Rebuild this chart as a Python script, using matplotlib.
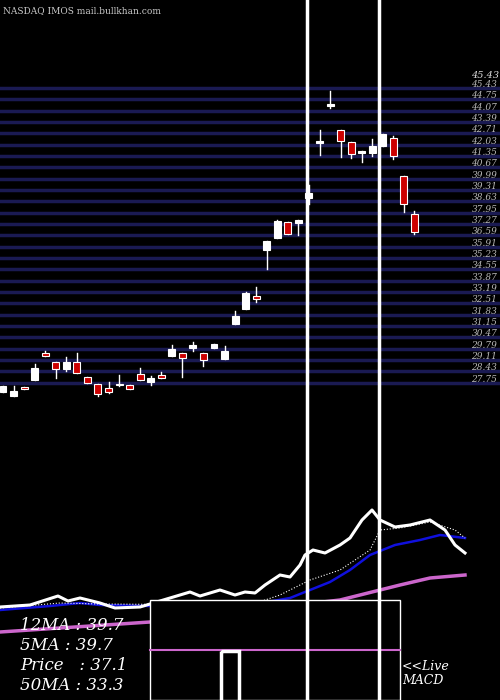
import matplotlib
matplotlib.use('Agg')
from matplotlib import pyplot as plt
from matplotlib.patches import Rectangle

# candles: open, close, high, low
opens  = [27.18,26.94,27.48,27.9,29.52,28.98,28.56,28.98,28.08,27.66,27.42,27.60,27.6,28.26,27.78,28.2,29.34,29.52,29.82,29.52,
          29.82,29.16,31.26,32.16,32.94,35.7,36.42,37.38,37.32,38.82,42.12,44.34,42.9,42.18,41.52,41.52,41.94,42.42,40.14,37.86]
closes = [27.54,27.24,27.36,28.62,29.34,28.56,28.98,28.32,27.72,27.06,27.18,27.66,27.36,27.9,28.02,28.02,29.76,29.22,30.0,29.1,
          30.06,29.64,31.74,33.12,32.76,36.24,37.44,36.66,37.5,39.12,42.24,44.46,42.24,41.46,41.64,41.94,42.66,41.34,38.46,36.78]
highs  = [27.54,27.54,27.48,28.86,29.64,28.98,29.28,29.52,28.08,27.66,27.78,28.2,27.6,28.62,28.14,28.38,30.0,29.52,30.18,29.52,
          30.06,29.94,32.04,33.18,33.48,36.24,37.5,37.38,37.5,39.6,42.9,45.24,42.9,42.18,41.64,42.36,42.66,42.54,40.14,38.04]
lows   = [27.18,26.94,27.36,27.9,29.34,28.02,28.44,28.32,27.72,26.94,27.12,27.54,27.36,27.9,27.6,28.02,29.34,28.08,29.64,28.74,
          29.82,29.16,31.26,32.16,32.58,34.56,36.42,36.66,36.6,38.46,41.4,44.22,41.28,41.22,40.98,41.34,41.94,41.16,37.98,36.66]

grid_prices = [45.43 - 0.68 * k for k in range(27)]

# lower panel indicator traces (panel units, 0 = top of figure)
px_x  = [0,30,58,68,80,100,115,140,190,200,220,235,245,255,265,280,290,300,305,313,325,340,350,362,372,380,395,410,430,445,455,465]
px_y  = [607,605,596,601,598,603,608,607,592,596,590,595,592,593,585,575,577,565,555,550,553,545,538,520,510,520,527,525,520,530,545,553]
dot_x = [0,60,100,250,280,310,340,370,380,400,430,455,465]
dot_y = [608,603,604,605,595,580,570,550,530,528,522,530,538]
blu_x = [0,50,80,100,150,250,290,310,330,350,370,395,420,440,465]
blu_y = [610,606,603,605,606,605,598,590,582,570,555,545,540,535,538]
mag_x = [0,60,150,340,380,400,430,465]
mag_y = [632,628,622,600,590,585,578,575]

fig = plt.figure(figsize=(5, 7), dpi=100, facecolor='black')

# pixel-style base axes for lower panel and overlays
base = fig.add_axes([0, 0, 1, 1])
base.set_xlim(0, 500); base.set_ylim(700, 0)
base.set_facecolor('black'); base.axis('off')

# price axes (upper 400 px)
pa = fig.add_axes([0, 300/700, 1, 400/700])
pa.set_facecolor('none'); pa.axis('off')
pa.set_xlim(-3/10.55, 497/10.55)
pa.set_ylim(50.7 - 0.06*400, 50.7)

for g in grid_prices:
    pa.axhline(g, color='#1a1a52', lw=2.5, zorder=1)
    pa.text(44.4, g + 0.2, f'{g:.2f}', color='#bbbbbb', fontsize=6.5, style='italic',
            family='DejaVu Serif', va='center', zorder=5)
pa.text(44.4, 45.43 + 0.75, '45.43', color='#dddddd', fontsize=7, style='italic',
        family='DejaVu Serif', va='center')

for i in range(len(opens)):
    o, c, h, l = opens[i], closes[i], highs[i], lows[i]
    col = 'white' if c >= o else '#cc0000'
    pa.plot([i, i], [l, h], color='white', lw=1, zorder=3)
    pa.add_patch(Rectangle((i - 0.33, min(o, c)), 0.66, max(abs(c - o), 0.08),
                           facecolor=col, edgecolor='white', lw=0.8, zorder=4))

# lower panel lines
base.plot(mag_x, mag_y, color='#cc66cc', lw=2.5, zorder=2)
base.plot(blu_x, blu_y, color='#1010dd', lw=1.8, zorder=2)
base.plot(dot_x, dot_y, color='white', lw=0.8, ls=':', zorder=2)
base.plot(px_x, px_y, color='white', lw=2.2, zorder=2)

# MACD box
base.add_patch(Rectangle((150, 600), 250, 100, facecolor='black', edgecolor='white', lw=1, zorder=6))
base.plot([150, 400], [650, 650], color='#cc66cc', lw=1.5, zorder=7)
base.add_patch(Rectangle((221, 651), 18, 60, facecolor='none', edgecolor='white', lw=2.5, zorder=7))

# vertical lines, drawn on the top axes so grid lines don't cut them
for vx in (307, 379):
    pa.plot([vx, vx], [0, 700], color='white', lw=2.5, zorder=8,
            transform=base.transData, clip_on=False)

txt = dict(color='white', style='italic', family='DejaVu Serif', zorder=9)
base.text(20, 626, '12MA : 39.7', fontsize=12, va='center', **txt)
base.text(20, 646, '5MA : 39.7', fontsize=12, va='center', **txt)
base.text(20, 666, 'Price   : 37.1', fontsize=12, va='center', **txt)
base.text(20, 686, '50MA : 33.3', fontsize=12, va='center', **txt)
base.text(402, 666, '<<Live', fontsize=9, va='center', **txt)
base.text(402, 681, 'MACD', fontsize=9, va='center', **txt)
base.text(3, 11, 'NASDAQ IMOS mail.bullkhan.com', color='#cccccc', fontsize=6.5,
          family='DejaVu Serif', va='center', zorder=9)

fig.savefig('out.png', dpi=100, facecolor='black')
